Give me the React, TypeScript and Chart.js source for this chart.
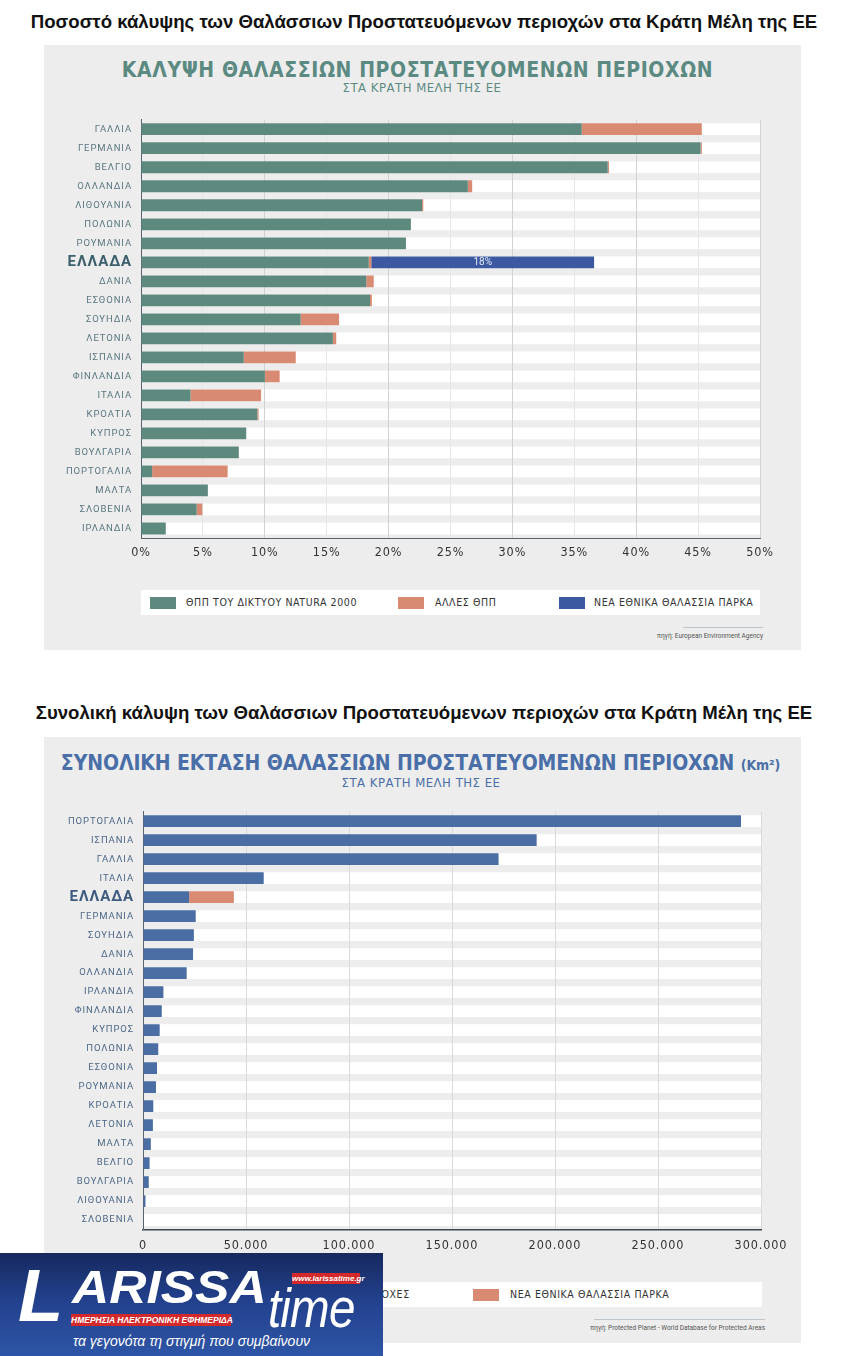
import React, { useEffect, useRef } from 'react';
import { Chart, registerables } from 'chart.js';

Chart.register(...registerables);

// ---------- DATA ----------
const coverageCountries = ['ΓΑΛΛΙΑ', 'ΓΕΡΜΑΝΙΑ', 'ΒΕΛΓΙΟ', 'ΟΛΛΑΝΔΙΑ', 'ΛΙΘΟΥΑΝΙΑ', 'ΠΟΛΩΝΙΑ', 'ΡΟΥΜΑΝΙΑ', 'ΕΛΛΑΔΑ', 'ΔΑΝΙΑ', 'ΕΣΘΟΝΙΑ', 'ΣΟΥΗΔΙΑ', 'ΛΕΤΟΝΙΑ', 'ΙΣΠΑΝΙΑ', 'ΦΙΝΛΑΝΔΙΑ', 'ΙΤΑΛΙΑ', 'ΚΡΟΑΤΙΑ', 'ΚΥΠΡΟΣ', 'ΒΟΥΛΓΑΡΙΑ', 'ΠΟΡΤΟΓΑΛΙΑ', 'ΜΑΛΤΑ', 'ΣΛΟΒΕΝΙΑ', 'ΙΡΛΑΝΔΙΑ'];
const natura2000Pct = [35.6, 45.2, 37.7, 26.4, 22.7, 21.8, 21.4, 18.4, 18.2, 18.5, 12.9, 15.5, 8.3, 10.0, 4.0, 9.4, 8.5, 7.9, 0.9, 5.4, 4.5, 2.0];
const otherMpaPct = [9.7, 0.1, 0.1, 0.35, 0.1, 0, 0, 0.2, 0.6, 0.15, 3.1, 0.27, 4.2, 1.2, 5.7, 0.1, 0, 0, 6.1, 0, 0.45, 0];
const newParksPct = [0, 0, 0, 0, 0, 0, 0, 18, 0, 0, 0, 0, 0, 0, 0, 0, 0, 0, 0, 0, 0, 0];

const areaCountries = ['ΠΟΡΤΟΓΑΛΙΑ', 'ΙΣΠΑΝΙΑ', 'ΓΑΛΛΙΑ', 'ΙΤΑΛΙΑ', 'ΕΛΛΑΔΑ', 'ΓΕΡΜΑΝΙΑ', 'ΣΟΥΗΔΙΑ', 'ΔΑΝΙΑ', 'ΟΛΛΑΝΔΙΑ', 'ΙΡΛΑΝΔΙΑ', 'ΦΙΝΛΑΝΔΙΑ', 'ΚΥΠΡΟΣ', 'ΠΟΛΩΝΙΑ', 'ΕΣΘΟΝΙΑ', 'ΡΟΥΜΑΝΙΑ', 'ΚΡΟΑΤΙΑ', 'ΛΕΤΟΝΙΑ', 'ΜΑΛΤΑ', 'ΒΕΛΓΙΟ', 'ΒΟΥΛΓΑΡΙΑ', 'ΛΙΘΟΥΑΝΙΑ', 'ΣΛΟΒΕΝΙΑ'];
const mpaAreaKm2 = [290300, 191100, 172600, 58600, 22400, 25600, 24700, 24300, 21200, 9900, 9100, 8100, 7400, 6800, 6300, 5000, 4800, 3800, 3200, 2800, 1200, 200];
const newParksAreaKm2 = [0, 0, 0, 0, 21700, 0, 0, 0, 0, 0, 0, 0, 0, 0, 0, 0, 0, 0, 0, 0, 0, 0];

const pctAxisMax = 50;
const pctAxisStep = 5;
const areaAxisMax = 300000;
const areaAxisStep = 50000;

const legendTop = ['ΘΠΠ ΤΟΥ ΔΙΚΤΥΟΥ NATURA 2000', 'ΑΛΛΕΣ ΘΠΠ', 'ΝΕΑ ΕΘΝΙΚΑ ΘΑΛΑΣΣΙΑ ΠΑΡΚΑ'];
const legendBottom = ['ΘΑΛΑΣΣΙΕΣ ΠΡΟΣΤΑΤΕΥΟΜΕΝΕΣ ΠΕΡΙΟΧΕΣ', 'ΝΕΑ ΕΘΝΙΚΑ ΘΑΛΑΣΣΙΑ ΠΑΡΚΑ'];

// ---------- STYLE ----------
const COND = "'DejaVu Sans Condensed', 'Liberation Sans Narrow', 'Roboto', sans-serif";
const LABEL = "'Roboto', 'Noto Sans', sans-serif";
const GREEN = '#5e897e';
const SALMON = '#d98a72';
const DARKBLUE = '#3b58a0';
const BLUE = '#4a6ea3';
const PANEL = '#ededed';

const stripesPlugin = {
  id: 'stripes',
  beforeDraw(chart: any) {
    const { ctx, chartArea } = chart;
    ctx.letterSpacing = '0.9px';
    const meta = chart.getDatasetMeta(0);
    ctx.save();
    ctx.fillStyle = '#ffffff';
    meta.data.forEach((el: any) => {
      ctx.fillRect(chartArea.left, el.y - el.height / 2, chartArea.right - chartArea.left, el.height);
    });
    ctx.restore();
  },
};

const barLabelPlugin = {
  id: 'barLabel',
  afterDatasetsDraw(chart: any) {
    const ds = chart.data.datasets[2];
    if (!ds) return;
    const meta = chart.getDatasetMeta(2);
    const { ctx } = chart;
    ctx.save();
    ctx.fillStyle = '#e4e9f4';
    ctx.font = `10px ${LABEL}`;
    ctx.letterSpacing = '0px';
    ctx.textAlign = 'center';
    ctx.textBaseline = 'middle';
    meta.data.forEach((el: any, i: number) => {
      const v = ds.data[i];
      if (v > 0) ctx.fillText(`${v}%`, (el.x + el.base) / 2, el.y + 0.5);
    });
    ctx.restore();
  },
};

const fmtThousands = (v: number) => String(v).replace(/\B(?=(\d{3})+(?!\d))/g, '.');

function makeYAxis(labels: string[], width: number, normalColor: string, boldColor: string) {
  const gi = labels.indexOf('ΕΛΛΑΔΑ');
  return {
    stacked: true,
    grid: { display: false, drawTicks: false },
    border: { display: true, color: '#59636b', width: 1 },
    ticks: {
      padding: 9,
      autoSkip: false,
      font: (c: any) => (c.index === gi ? { family: LABEL, size: 15, weight: 'bold' } : { family: LABEL, size: 9.5 }),
      color: (c: any) => (c.index === gi ? boldColor : normalColor),
    },
    afterFit: (s: any) => {
      s.width = width;
    },
  };
}

function CoverageChart() {
  const ref = useRef<HTMLCanvasElement | null>(null);
  useEffect(() => {
    if (!ref.current) return;
    const chart = new Chart(ref.current, {
      type: 'bar',
      data: {
        labels: coverageCountries,
        datasets: [
          { label: legendTop[0], data: natura2000Pct, backgroundColor: GREEN, barPercentage: 0.62, categoryPercentage: 1 },
          { label: legendTop[1], data: otherMpaPct, backgroundColor: SALMON, barPercentage: 0.62, categoryPercentage: 1 },
          { label: legendTop[2], data: newParksPct, backgroundColor: DARKBLUE, barPercentage: 0.62, categoryPercentage: 1 },
        ],
      },
      options: {
        indexAxis: 'y',
        animation: false,
        responsive: false,
        layout: { padding: { top: 13, right: 40, left: 0, bottom: 0 } },
        plugins: { legend: { display: false }, tooltip: { enabled: false } },
        scales: {
          x: {
            stacked: true,
            min: 0,
            max: pctAxisMax,
            grid: {
              drawTicks: false,
              color: (c: any) => (c.index % 2 === 0 ? '#d2d2d2' : '#e6e6e6'),
            },
            border: { display: true, color: '#59636b', width: 1 },
            ticks: {
              stepSize: pctAxisStep,
              padding: 7,
              font: { family: COND, size: 12.5 },
              color: '#333333',
              callback: (v: any) => `${v}%`,
            },
            afterFit: (s: any) => {
              s.height = 27;
            },
          },
          y: makeYAxis(coverageCountries, 97, '#5a7781', '#3c5f6c'),
        },
      } as any,
      plugins: [stripesPlugin, barLabelPlugin],
    });
    return () => chart.destroy();
  }, []);
  return <canvas ref={ref} width={756} height={460} style={{ position: 'absolute', left: 44, top: 105, width: 756, height: 460 }} />;
}

function AreaChart() {
  const ref = useRef<HTMLCanvasElement | null>(null);
  useEffect(() => {
    if (!ref.current) return;
    const chart = new Chart(ref.current, {
      type: 'bar',
      data: {
        labels: areaCountries,
        datasets: [
          { label: legendBottom[0], data: mpaAreaKm2, backgroundColor: BLUE, barPercentage: 0.62, categoryPercentage: 1 },
          { label: legendBottom[1], data: newParksAreaKm2, backgroundColor: SALMON, barPercentage: 0.62, categoryPercentage: 1 },
        ],
      },
      options: {
        indexAxis: 'y',
        animation: false,
        responsive: false,
        layout: { padding: { top: 13.5, right: 39, left: 0, bottom: 0 } },
        plugins: { legend: { display: false }, tooltip: { enabled: false } },
        scales: {
          x: {
            stacked: true,
            min: 0,
            max: areaAxisMax,
            grid: { drawTicks: false, color: '#dadada' },
            border: { display: true, color: '#3d4650', width: 1.5 },
            ticks: {
              stepSize: areaAxisStep,
              padding: 9,
              font: { family: COND, size: 12.5 },
              color: '#333333',
              callback: (v: any) => fmtThousands(v),
            },
            afterFit: (s: any) => {
              s.height = 37.5;
            },
          },
          y: makeYAxis(areaCountries, 99, '#4d6888', '#3f5c80'),
        },
      } as any,
      plugins: [stripesPlugin],
    });
    return () => chart.destroy();
  }, []);
  return <canvas ref={ref} width={756} height={470} style={{ position: 'absolute', left: 44, top: 797, width: 756, height: 470 }} />;
}

const abs = (o: React.CSSProperties): React.CSSProperties => ({ position: 'absolute', ...o });

function LegendItem({ x, text, color, textX, top }: { x: number; text: string; color: string; textX: number; top: number }) {
  return (
    <>
      <div style={abs({ left: x, top: top + 7, width: 26, height: 12, background: color })} />
      <div style={abs({ left: textX, top: top + 6, height: 14, lineHeight: '14px', font: `10.5px ${COND}`, letterSpacing: '0.6px', color: '#333', whiteSpace: 'nowrap' })}>{text}</div>
    </>
  );
}

function Logo() {
  return (
    <div style={abs({ left: 0, top: 1253, width: 383, height: 103, overflow: 'hidden', background: 'linear-gradient(180deg, #16295f 0%, #22408c 45%, #2e55a6 100%)', fontFamily: "'Liberation Sans', Arial, sans-serif" })}>
      <div style={abs({ left: 18, top: 6, fontSize: 74, fontWeight: 'bold', fontStyle: 'italic', color: '#fff', lineHeight: '74px' })}>L</div>
      <div style={abs({ left: 72, top: 11, fontSize: 46, fontWeight: 'bold', fontStyle: 'italic', color: '#fff', lineHeight: '46px', transform: 'scaleX(1.12)', transformOrigin: 'left top' })}>ARISSA</div>
      <div style={abs({ left: 292, top: 20, width: 68, height: 11, background: '#d3292b', color: '#fff', fontSize: 8, fontWeight: 'bold', fontStyle: 'italic', lineHeight: '11px', textAlign: 'center' })}>www.larissatime.gr</div>
      <div style={abs({ left: 268, top: 27, fontSize: 56, fontStyle: 'italic', color: '#fff', lineHeight: '56px', letterSpacing: '-1px', transform: 'scaleX(0.85)', transformOrigin: 'left top' })}>time</div>
      <div style={abs({ left: 71, top: 61, width: 160, height: 12, background: '#d3292b', color: '#fff', fontSize: 8.5, fontWeight: 'bold', fontStyle: 'italic', lineHeight: '12px', textAlign: 'center', whiteSpace: 'nowrap' })}>ΗΜΕΡΗΣΙΑ ΗΛΕΚΤΡΟΝΙΚΗ ΕΦΗΜΕΡΙΔΑ</div>
      <div style={abs({ left: 0, top: 80, width: 383, textAlign: 'center', fontSize: 14, fontStyle: 'italic', color: '#fff', lineHeight: '16px', fontFamily: "'Liberation Sans Narrow', 'Liberation Sans', sans-serif" })}>τα γεγονότα τη στιγμή που συμβαίνουν</div>
    </div>
  );
}

export default function App() {
  const heading: React.CSSProperties = { left: 0, width: 848, textAlign: 'center', font: `bold 18.6px 'Liberation Sans', Arial, sans-serif`, color: '#111', lineHeight: '22px', whiteSpace: 'nowrap' };
  const titleFont = `bold 21px ${COND}`;
  return (
    <div style={abs({ left: 0, top: 0, width: 852, height: 1356, background: '#fff', overflow: 'hidden' })}>
      <div style={abs({ ...heading, top: 11 })}>Ποσοστό κάλυψης των Θαλάσσιων Προστατευόμενων περιοχών στα Κράτη Μέλη της ΕΕ</div>

      <div style={abs({ left: 44, top: 45, width: 757, height: 605, background: PANEL })} />
      <div style={abs({ left: 0, top: 57, width: 835, textAlign: 'center', font: titleFont, color: '#5b8a82', lineHeight: '26px', letterSpacing: '0.6px', whiteSpace: 'nowrap' })}>ΚΑΛΥΨΗ ΘΑΛΑΣΣΙΩΝ ΠΡΟΣΤΑΤΕΥΟΜΕΝΩΝ ΠΕΡΙΟΧΩΝ</div>
      <div style={abs({ left: 0, top: 80, width: 844, textAlign: 'center', font: `13px ${COND}`, color: '#5b8a82', lineHeight: '16px', letterSpacing: '0.5px' })}>ΣΤΑ ΚΡΑΤΗ ΜΕΛΗ ΤΗΣ ΕΕ</div>
      <CoverageChart />
      <div style={abs({ left: 141, top: 590, width: 619, height: 25, background: '#fff' })} />
      <LegendItem x={150} textX={186} top={590} color={GREEN} text={legendTop[0]} />
      <LegendItem x={398} textX={435} top={590} color={SALMON} text={legendTop[1]} />
      <LegendItem x={559} textX={594} top={590} color={DARKBLUE} text={legendTop[2]} />
      <div style={abs({ left: 683, top: 627, width: 80, height: 1, background: '#bcc4cc' })} />
      <div style={abs({ left: 560, width: 203, top: 632, textAlign: 'right', font: `6.5px ${LABEL}`, color: '#555', lineHeight: '8px' })}>πηγή: European Environment Agency</div>

      <div style={abs({ ...heading, top: 702 })}>Συνολική κάλυψη των Θαλάσσιων Προστατευόμενων περιοχών στα Κράτη Μέλη της ΕΕ</div>

      <div style={abs({ left: 44, top: 737, width: 757, height: 606, background: PANEL })} />
      <div style={abs({ left: 0, top: 750, width: 841, textAlign: 'center', font: titleFont, color: '#4a6fa8', lineHeight: '26px', letterSpacing: '-0.1px', whiteSpace: 'nowrap' })}>
        ΣΥΝΟΛΙΚΗ ΕΚΤΑΣΗ ΘΑΛΑΣΣΙΩΝ ΠΡΟΣΤΑΤΕΥΟΜΕΝΩΝ ΠΕΡΙΟΧΩΝ <span style={{ fontSize: 14 }}>(Km²)</span>
      </div>
      <div style={abs({ left: 0, top: 775, width: 842, textAlign: 'center', font: `13px ${COND}`, color: '#4a6fa8', lineHeight: '16px', letterSpacing: '0.5px' })}>ΣΤΑ ΚΡΑΤΗ ΜΕΛΗ ΤΗΣ ΕΕ</div>
      <AreaChart />
      <div style={abs({ left: 141, top: 1282, width: 621, height: 25, background: '#fff' })} />
      <LegendItem x={150} textX={186} top={1282} color={BLUE} text={legendBottom[0]} />
      <LegendItem x={473} textX={510} top={1282} color={SALMON} text={legendBottom[1]} />
      <div style={abs({ left: 594, top: 1319, width: 171, height: 1, background: '#bcc4cc' })} />
      <div style={abs({ left: 480, width: 285, top: 1324, textAlign: 'right', font: `6.5px ${LABEL}`, color: '#555', lineHeight: '8px' })}>πηγή: Protected Planet - World Database for Protected Areas</div>

      <Logo />
    </div>
  );
}
